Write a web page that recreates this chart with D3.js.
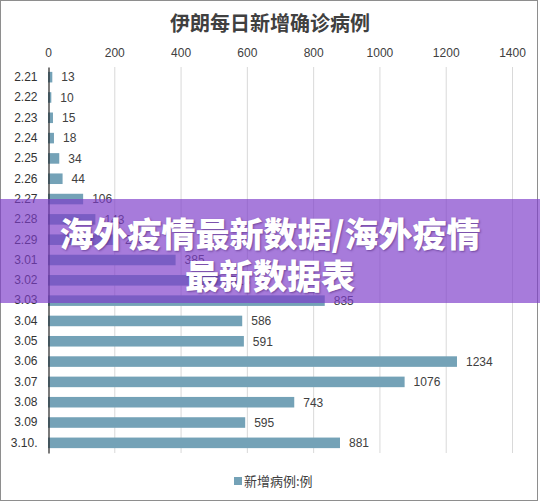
<!DOCTYPE html>
<html><head><meta charset="utf-8">
<script src="https://cdn.jsdelivr.net/npm/d3@7"></script>
<style>
html,body{margin:0;padding:0;background:#fff;}
svg{display:block;font-family:"Liberation Sans",Arial,"Noto Sans CJK SC",sans-serif;}
</style></head>
<body>
<script>
const title = "伊朗每日新增确诊病例";
const categories = ["2.21","2.22","2.23","2.24","2.25","2.26","2.27","2.28","2.29","3.01","3.02","3.03","3.04","3.05","3.06","3.07","3.08","3.09","3.10."];
const values = [13,10,15,18,34,44,106,143,205,385,523,835,586,591,1234,1076,743,595,881];
const xTicks = [0,200,400,600,800,1000,1200,1400];
const seriesName = "新增病例:例";
const bannerLines = ["海外疫情最新数据/海外疫情","最新数据表"];

(function(){
const W = 540, H = 502;
const svg = d3.select("body").append("svg").attr("width", W).attr("height", H);

svg.append("rect").attr("x",0.5).attr("y",0.5).attr("width",537).attr("height",500)
  .attr("fill","#fff").attr("stroke","#8e8e8e").attr("stroke-width",1);

const pLeft = 48, pRight = 512, pTop = 67, pBottom = 453;
const x = d3.scaleLinear().domain([0,1400]).range([pLeft,pRight]);
const y = d3.scaleBand().domain(categories).range([pTop,pBottom]).paddingInner(0.48).paddingOuter(0.24);

svg.append("text").attr("x",270).attr("y",31).attr("text-anchor","middle")
  .attr("font-family","'Noto Sans CJK SC',sans-serif").attr("font-weight","bold")
  .attr("font-size",20).attr("fill","#404040").text(title);

svg.append("g").selectAll("line").data(xTicks.filter(d=>d>0)).join("line")
  .attr("x1",d=>x(d)+0.5).attr("x2",d=>x(d)+0.5).attr("y1",pTop).attr("y2",pBottom)
  .attr("stroke","#d9d9d9").attr("stroke-width",1);

const ax = svg.append("g").attr("transform",`translate(0,${pTop})`)
  .call(d3.axisTop(x).tickValues(xTicks).tickSize(0).tickPadding(10).tickFormat(d3.format("d")));
ax.select(".domain").remove();
ax.selectAll("text").attr("font-size",12).attr("fill","#404040")
  .attr("font-family","'Liberation Sans',Arial,sans-serif");

svg.append("g").selectAll("rect").data(values).join("rect")
  .attr("x",x(0)).attr("y",(d,i)=>y(categories[i]))
  .attr("width",d=>x(d)-x(0)).attr("height",y.bandwidth())
  .attr("fill","#74a2b7");

svg.append("g").selectAll("text").data(values).join("text")
  .attr("x",d=>x(d)+9).attr("y",(d,i)=>y(categories[i])+y.bandwidth()/2)
  .attr("dy","0.36em").attr("font-size",12).attr("fill","#404040").text(d=>d);

const ay = svg.append("g").attr("transform",`translate(${pLeft+0.5},0)`)
  .call(d3.axisLeft(y).tickSize(0).tickPadding(11));
ay.select(".domain").attr("stroke","#222").attr("stroke-width",1.2);
ay.selectAll("text").attr("font-size",12).attr("fill","#333")
  .attr("font-family","'Liberation Sans',Arial,sans-serif");

svg.append("rect").attr("x",234).attr("y",477).attr("width",8).attr("height",8).attr("fill","#74a2b7");
svg.append("text").attr("x",244).attr("y",481.5).attr("dy","0.36em")
  .attr("font-size",13).attr("fill","#404040")
  .attr("font-family","'Noto Sans CJK SC',sans-serif").text(seriesName);

svg.append("rect").attr("x",0).attr("y",199).attr("width",W).attr("height",104)
  .attr("fill","rgb(126,61,202)").attr("fill-opacity",0.68);
const bt = svg.append("g");
bannerLines.forEach((t,i)=>{
  bt.append("text").attr("x",270).attr("y",235 + i*42).attr("dy","0.36em")
    .attr("text-anchor","middle").attr("font-family","'Noto Sans CJK SC',sans-serif")
    .attr("font-weight",900).attr("font-size",34).attr("fill","#fff")
    .style("text-shadow","1px 1px 2px rgba(60,20,100,0.5)")
    .text(t);
});
})();
</script>
</body></html>
